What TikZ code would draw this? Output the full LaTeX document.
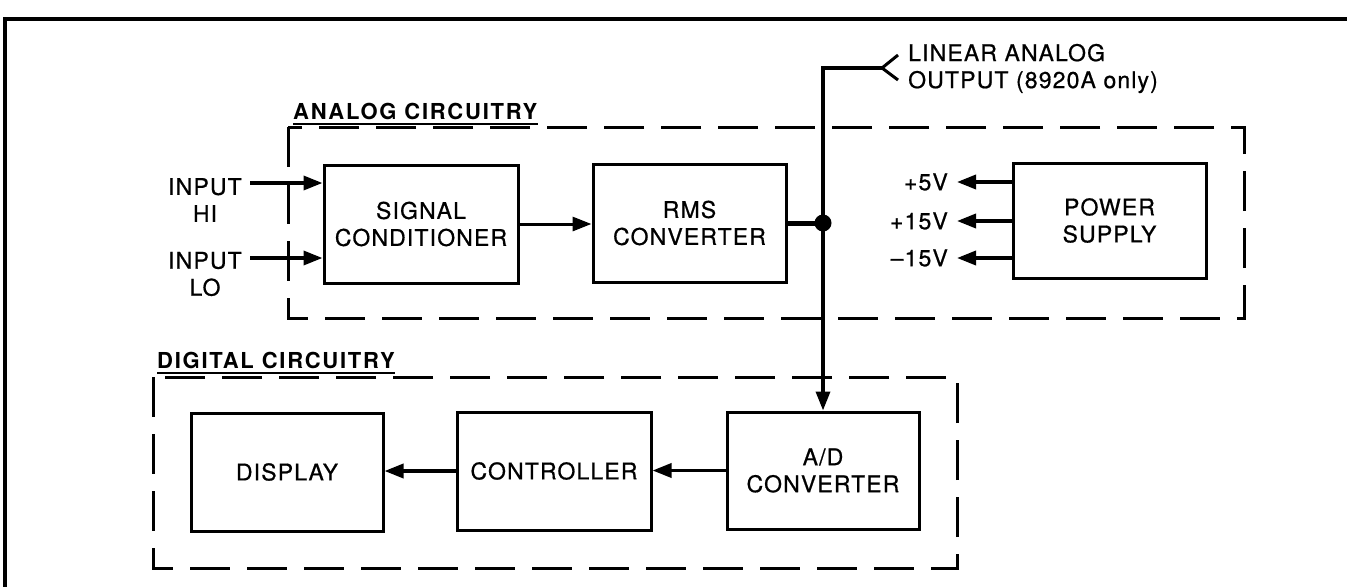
\documentclass[tikz,border=0pt]{standalone}
\usepackage{fontspec}
\setmainfont{TeX Gyre Heros}[LetterSpace=5,FakeBold=0.7]
\newfontfamily\lblfamily{TeX Gyre Heros}[LetterSpace=8]
\usetikzlibrary{arrows.meta}
\newcommand\txtfont{\fontsize{23}{27}\selectfont}
\newcommand\ttlfont{\lblfamily\bfseries\fontsize{22}{26}\selectfont}
\tikzset{
  blk/.style={draw, line width=3pt, align=center, inner sep=0pt, font=\txtfont},
  conn/.style={line width=3.5pt, -{Triangle[length=19pt,width=14pt]}},
  wire/.style={line width=3.5pt},
  dbox/.style={line width=3pt, dash pattern=on 40pt off 17pt},
  txt/.style={inner sep=0pt, align=center, font=\txtfont},
  ttl/.style={inner sep=0pt, font=\ttlfont, anchor=base west},
}
\begin{document}
\begin{tikzpicture}[x=1pt, y=-1pt]
\useasboundingbox (0,0) rectangle (1347,587);
% frame
\draw[line width=4pt] (1347,19) -- (5,19) -- (5,587);
% group boxes
\draw[dbox] (288,127) rectangle (1244,318);
\draw[dbox] (153,377) rectangle (957,568);
\node[ttl] (alab) at (293,119) {ANALOG CIRCUITRY};
\draw[line width=2.5pt] ([yshift=-5pt]alab.base west) -- ([yshift=-5pt]alab.base east);
\node[ttl] (dlab) at (157,368) {DIGITAL CIRCUITRY};
\draw[line width=2.5pt] ([yshift=-5pt]dlab.base west) -- ([yshift=-5pt]dlab.base east);
% blocks
\node[blk, minimum width=194pt, minimum height=118pt] (sc) at (421,224) {SIGNAL\\CONDITIONER};
\node[blk, minimum width=193pt, minimum height=118pt] (rms) at (689.5,223) {RMS\\CONVERTER};
\node[blk, minimum width=193pt, minimum height=115pt] (ps) at (1109.5,220.5) {POWER\\SUPPLY};
\node[blk, minimum width=192pt, minimum height=118pt] (disp) at (287,472) {DISPLAY};
\node[blk, minimum width=194pt, minimum height=118pt] (ctrl) at (554,471) {CONTROLLER};
\node[blk, minimum width=192pt, minimum height=117pt] (ad) at (823,470.5) {A/D\\CONVERTER};
% inputs
\node[txt] (inhi) at (205,200) {INPUT\\HI};
\node[txt] (inlo) at (205,274) {INPUT\\LO};
\coordinate (hi) at (250,183);
\coordinate (lo) at (250,258);
\draw[conn] (hi) -- (hi -| sc.west);
\draw[conn] (lo) -- (lo -| sc.west);
% signal path
\draw[conn, line width=3pt] (sc.east) -- (sc.east -| rms.west);
\node[circle, fill, minimum size=17pt, inner sep=0pt] (j) at (823,223) {};
\draw[line width=5pt] (rms.east) -- (j.center);
\coordinate (oc) at (882,68);
\draw[wire] (j.center) -- (j |- oc) -- (oc);
\draw[line width=3pt] ([shift={(16,-13)}]oc) -- (oc) -- ([shift={(16,12)}]oc);
\node[txt, align=left, anchor=west] (lout) at (908,68.5) {LINEAR ANALOG\\OUTPUT (8920A only)};
\draw[conn] (j.center) -- (ad.north);
\draw[conn] (ad.west) -- (ad.west -| ctrl.east);
\draw[conn] (ctrl.west) -- (ctrl.west -| disp.east);
% power supply outputs
\coordinate (p5) at (957,182);
\coordinate (p15) at (957,221);
\coordinate (m15) at (957,258);
\draw[conn] (p5 -| ps.west) -- (p5);
\draw[conn] (p15 -| ps.west) -- (p15);
\draw[conn] (m15 -| ps.west) -- (m15);
\node[txt, anchor=east] (l5) at (948,182) {+5V};
\node[txt, anchor=east] (l15) at (948,221) {+15V};
\node[txt, anchor=east] (lm15) at (948,258) {--15V};
\end{tikzpicture}
\end{document}
